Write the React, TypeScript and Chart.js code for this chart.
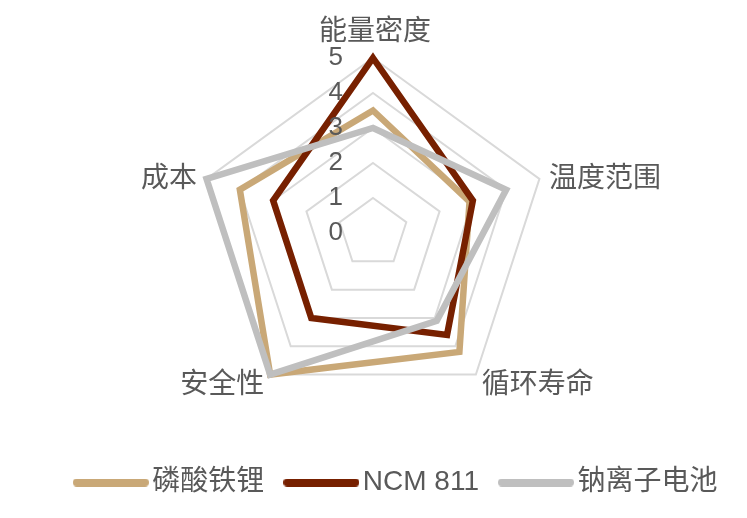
import React, { useEffect, useRef } from 'react';
import { Chart, registerables } from 'chart.js';

Chart.register(...registerables);

const categories = ['能量密度', '温度范围', '循环寿命', '安全性', '成本'];
const lfpValues = [3.5, 2.9, 4.2, 5, 4];
const ncmValues = [5, 3, 3.6, 3, 3];
const sodiumValues = [3, 4, 3.1, 5, 5];
const tickValues = [0, 1, 2, 3, 4, 5];

const FONT = '"Liberation Sans", Arial, "Noto Sans CJK SC", sans-serif';
const TEXT = '#595959';

// thick rounded line used as the legend marker
function legendLine(color: string) {
  const c = document.createElement('canvas');
  c.width = 76;
  c.height = 8;
  const g = c.getContext('2d');
  if (g) {
    g.strokeStyle = color;
    g.lineWidth = 8;
    g.lineCap = 'round';
    g.beginPath();
    g.moveTo(4, 4);
    g.lineTo(72, 4);
    g.stroke();
  }
  return c;
}

// Excel-style labels: ticks left of the vertical axis (with "0"), category labels round the outside
const labelPlugin = {
  id: 'radarLabels',
  afterDatasetsDraw(chart: any) {
    const scale = chart.scales.r;
    const ctx = chart.ctx;
    ctx.save();
    ctx.fillStyle = TEXT;

    ctx.font = `26px ${FONT}`;
    ctx.textAlign = 'right';
    ctx.textBaseline = 'middle';
    tickValues.forEach((v) => {
      const d = scale.getDistanceFromCenterForValue(v);
      ctx.fillText(String(v), scale.xCenter - 30, scale.yCenter - d);
    });

    ctx.font = `28px ${FONT}`;
    categories.forEach((label, i) => {
      const p = scale.getPointPosition(i, scale.drawingArea + 10);
      const dx = p.x - scale.xCenter;
      if (Math.abs(dx) < 2) {
        ctx.textAlign = 'center';
        ctx.fillText(label, p.x + 2, p.y - 16);
      } else {
        ctx.textAlign = dx > 0 ? 'left' : 'right';
        ctx.fillText(label, p.x, p.y + 3);
      }
    });
    ctx.restore();
  },
};

const App: React.FC = () => {
  const canvasRef = useRef<HTMLCanvasElement | null>(null);
  const chartRef = useRef<Chart | null>(null);

  useEffect(() => {
    document.body.style.margin = '0';
    if (!canvasRef.current) return;
    const ctx = canvasRef.current.getContext('2d');
    if (!ctx) return;

    if (chartRef.current) chartRef.current.destroy();

    const line = (label: string, data: number[], color: string, order: number) => ({
      label,
      data,
      borderColor: color,
      backgroundColor: color,
      borderWidth: 6.5,
      borderJoinStyle: 'miter' as const,
      pointRadius: 0,
      pointHoverRadius: 0,
      pointStyle: legendLine(color),
      fill: false,
      order,
    });

    chartRef.current = new Chart(ctx, {
      type: 'radar',
      data: {
        labels: categories,
        datasets: [
          line('磷酸铁锂', lfpValues, '#C9A877', 3),
          line('NCM 811', ncmValues, '#772000', 2),
          line('钠离子电池', sodiumValues, '#BFBFBF', 1),
        ],
      },
      options: {
        animation: false,
        responsive: true,
        maintainAspectRatio: false,
        layout: { padding: { top: 58, bottom: 11.5, left: -7, right: 0 } },
        scales: {
          r: {
            min: 0,
            max: 5,
            ticks: { stepSize: 1, display: false },
            grid: { color: '#D9D9D9', lineWidth: 2 },
            angleLines: { display: false },
            pointLabels: { display: false },
          },
        },
        plugins: {
          tooltip: { enabled: false },
          legend: {
            position: 'bottom',
            align: 'end',
            title: { display: true, text: '', font: { size: 10 }, padding: { top: 19, bottom: 0 } },
            labels: {
              usePointStyle: true,
              pointStyleWidth: 55,
              padding: 29.5,
              color: TEXT,
              font: { family: FONT, size: 28 },
              sort: (a: any, b: any) => a.datasetIndex - b.datasetIndex,
            },
          },
        },
      },
      plugins: [labelPlugin],
    });

    return () => {
      if (chartRef.current) {
        chartRef.current.destroy();
        chartRef.current = null;
      }
    };
  }, []);

  return (
    <div style={{ position: 'relative', width: 747, height: 518 }}>
      <canvas ref={canvasRef}></canvas>
    </div>
  );
};

export default App;
